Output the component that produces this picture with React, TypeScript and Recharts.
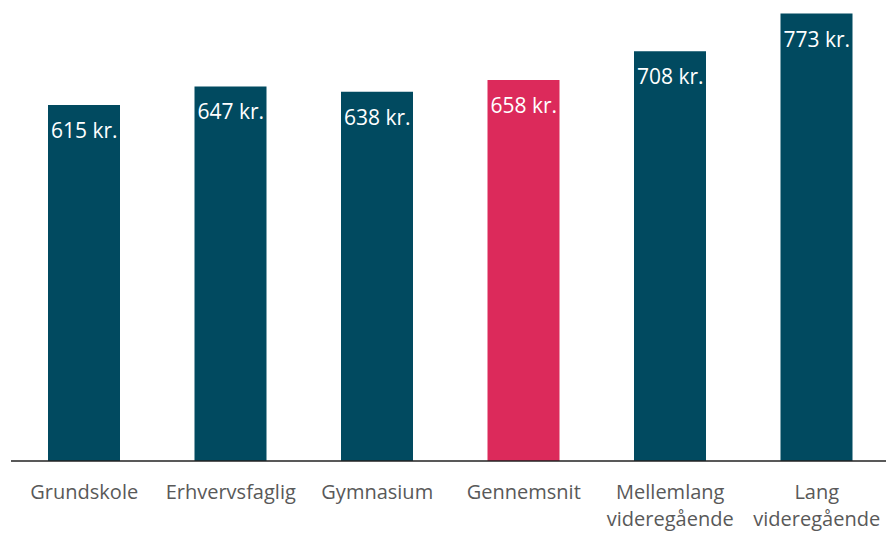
import { Bar, BarChart, Cell, LabelList, XAxis, YAxis } from "recharts";

const categories = [
  "Grundskole",
  "Erhvervsfaglig",
  "Gymnasium",
  "Gennemsnit",
  "Mellemlang\nvideregående",
  "Lang\nvideregående",
];
const values = [615, 647, 638, 658, 708, 773];
const highlight = "Gennemsnit";

const TEAL = "#014A60";
const PINK = "#DC2A5B";

const data = categories.map((name, i) => ({ name, value: values[i] }));

function CategoryTick({ x, y, payload }: any) {
  const lines = String(payload.value).split("\n");
  return (
    <text x={x} y={y + 38} textAnchor="middle" fill="#595959" fontSize={20} fontFamily="'Open Sans', sans-serif">
      {lines.map((l, i) => (
        <tspan key={i} x={x} dy={i === 0 ? 0 : 27}>{l}</tspan>
      ))}
    </text>
  );
}

function ValueLabel({ x, y, value }: any) {
  return (
    <text x={x + 3} y={y + 33} fill="#fff" fontSize={21} fontFamily="'Open Sans', sans-serif">
      {value} kr.
    </text>
  );
}

export default function App() {
  return (
    <div style={{ width: 886, height: 533, overflow: "hidden" }}>
      <style>{"body{margin:0}"}</style>
      <BarChart width={890} height={533} data={data} margin={{ top: 13.5, right: 0, bottom: 0, left: 11 }}>
        <XAxis
          dataKey="name"
          height={72}
          interval={0}
          tickLine={false}
          tickSize={0}
          tickMargin={0}
          axisLine={{ stroke: "#222", strokeWidth: 1.5 }}
          tick={<CategoryTick />}
        />
        <YAxis hide domain={[0, 773]} />
        <Bar dataKey="value" barSize={72} isAnimationActive={false}>
          {data.map((d, i) => (
            <Cell key={i} fill={d.name === highlight ? PINK : TEAL} />
          ))}
          <LabelList dataKey="value" content={<ValueLabel />} />
        </Bar>
      </BarChart>
    </div>
  );
}
